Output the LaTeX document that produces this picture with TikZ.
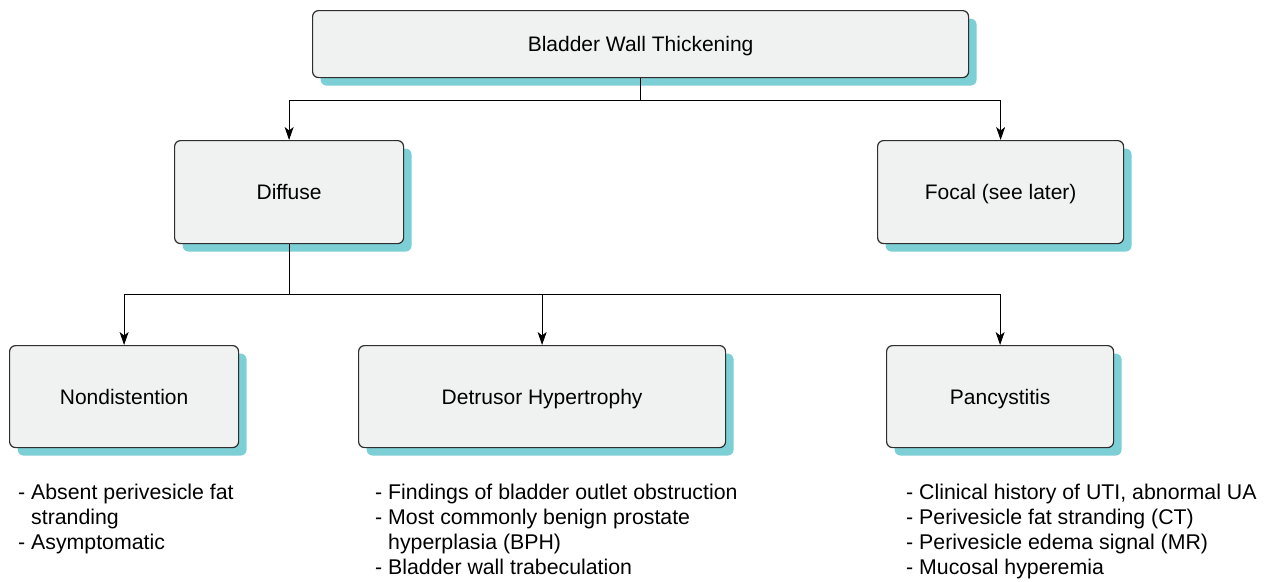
\documentclass[tikz,border=0pt]{standalone}
\usepackage{fontspec}
\setmainfont{Liberation Sans}
\usetikzlibrary{arrows.meta,shadows}
\definecolor{boxfill}{HTML}{F0F1F1}
\definecolor{boxline}{HTML}{2E2E2E}
\definecolor{shadowteal}{HTML}{7CCFD4}
\tikzset{
  x=1pt, y=1pt,
  box/.style={draw=boxline, line width=1.2pt, fill=boxfill, rounded corners=6pt,
    anchor=north west, inner sep=0pt, align=center,
    font=\fontsize{21}{25}\selectfont, text height=15.3pt, text depth=0pt,
    general shadow={fill=shadowteal, shadow xshift=8pt, shadow yshift=-8pt}},
  link/.style={draw=black, line width=1pt},
  arr/.style={link, -{Stealth[length=13pt,width=9pt,inset=3.5pt]}},
  notes/.style={anchor=base west, inner sep=0pt,
    font=\fontsize{21.3}{25}\selectfont}
}
\begin{document}
\begin{tikzpicture}
\useasboundingbox (0,0) rectangle (1269,-581);

% category boxes
\node[box, minimum width=656, minimum height=67] (top) at (312,-10) {Bladder Wall Thickening};
\node[box, minimum width=229, minimum height=103] (diffuse) at (174,-140) {Diffuse};
\node[box, minimum width=246, minimum height=103] (focal) at (877,-140) {Focal (see later)};
\node[box, minimum width=229, minimum height=102] (nond) at (9,-345) {Nondistention};
\node[box, minimum width=367, minimum height=102] (detr) at (358,-345) {Detrusor Hypertrophy};
\node[box, minimum width=227, minimum height=102] (panc) at (886,-345) {Pancystitis};

% branching connectors
\coordinate (j1) at (top.south |- 0,-100);
\draw[link] (top.south) -- (j1);
\draw[arr] (j1) -| (diffuse.north);
\draw[arr] (j1) -| (focal.north);

\coordinate (j2) at (diffuse.south |- 0,-294);
\draw[link] (diffuse.south) -- (j2);
\draw[arr] (j2) -| (nond.north);
\draw[arr] (j2) -| (detr.north);
\draw[arr] (j2) -| (panc.north);

% findings under each box
\node[notes] (n1) at (18,-499) {\begin{tabular}[t]{@{}l@{}}
- Absent perivesicle fat\\
\phantom{- }stranding\\
- Asymptomatic
\end{tabular}};
\node[notes] (n2) at (375,-499) {\begin{tabular}[t]{@{}l@{}}
- Findings of bladder outlet obstruction\\
- Most commonly benign prostate\\
\phantom{- }hyperplasia (BPH)\\
- Bladder wall trabeculation
\end{tabular}};
\node[notes] (n3) at (906,-499) {\begin{tabular}[t]{@{}l@{}}
- Clinical history of UTI, abnormal UA\\
- Perivesicle fat stranding (CT)\\
- Perivesicle edema signal (MR)\\
- Mucosal hyperemia
\end{tabular}};
\end{tikzpicture}
\end{document}
